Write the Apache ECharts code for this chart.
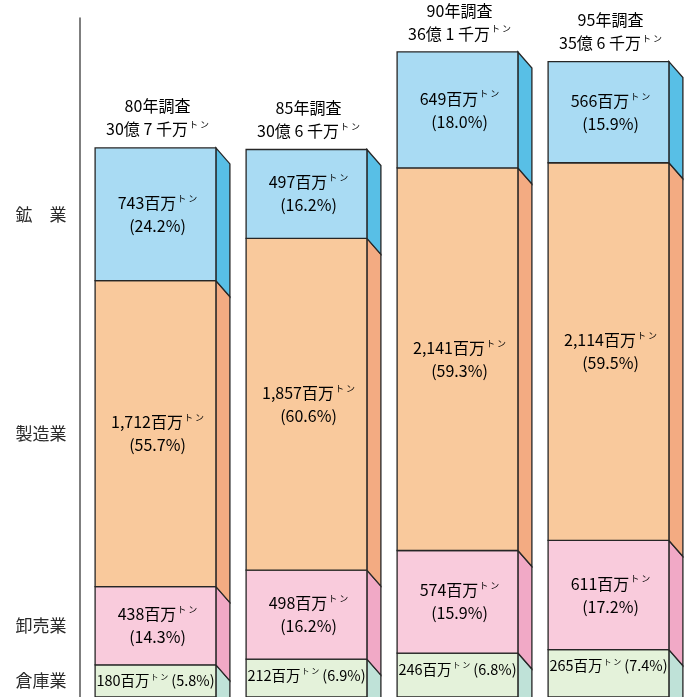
<!DOCTYPE html>
<html>
<head>
<meta charset="utf-8">
<script src="https://cdn.jsdelivr.net/npm/echarts@6/dist/echarts.min.js"></script>
<style>
  html, body { margin: 0; padding: 0; background: #fff; }
  #chart { width: 687px; height: 697px; }
</style>
</head>
<body>
<div id="chart"></div>
<script>
// Survey years and freight totals
const years = ['80年調査', '85年調査', '90年調査', '95年調査'];
const totals = ['30億 7 千万', '30億 6 千万', '36億 1 千万', '35億 6 千万'];

// Industry names (top to bottom)
const sectors = ['鉱　業', '製造業', '卸売業', '倉庫業'];

// Freight volume per industry (百万トン) and share (%)
const mining = [743, 497, 649, 566];
const miningPct = ['24.2', '16.2', '18.0', '15.9'];
const manufacturing = [1712, 1857, 2141, 2114];
const manufacturingPct = ['55.7', '60.6', '59.3', '59.5'];
const wholesale = [438, 498, 574, 611];
const wholesalePct = ['14.3', '16.2', '15.9', '17.2'];
const warehouse = [180, 212, 246, 265];
const warehousePct = ['5.8', '6.9', '6.8', '7.4'];

function fmt(n) { return n.toLocaleString('en-US'); }

// stacking order, bottom to top
const layers = [
  { name: sectors[3], values: warehouse, pct: warehousePct, front: '#e4f2da', side: '#bfe2d8', oneLine: true },
  { name: sectors[2], values: wholesale, pct: wholesalePct, front: '#f9cbdc', side: '#f1a9c6' },
  { name: sectors[1], values: manufacturing, pct: manufacturingPct, front: '#f9c99c', side: '#f3ab82' },
  { name: sectors[0], values: mining, pct: miningPct, front: '#a9dbf3', side: '#58bfe6', top: true }
];

const base = years.map(() => 0);
const DX = 14, DY = 16;
const FONT = '"Noto Sans CJK JP", sans-serif';
const rich = {
  a: { fontFamily: FONT, fontSize: 16, color: '#2a2a2a', lineHeight: 23 },
  t: { fontFamily: FONT, fontSize: 9, color: '#2a2a2a', padding: [0, 0, 9, 1] },
  s: { fontFamily: FONT, fontSize: 14.5, color: '#2a2a2a', lineHeight: 20 },
  st: { fontFamily: FONT, fontSize: 8, color: '#2a2a2a', padding: [0, 3, 8, 1] }
};

const series = layers.map((layer) => {
  const data = layer.values.map((v, i) => {
    const lo = base[i];
    base[i] += v;
    return [i, lo, base[i], v];
  });
  return {
    type: 'custom',
    name: layer.name,
    data: data,
    clip: false,
    renderItem: function (params, api) {
      const idx = api.value(0);
      const pTop = api.coord([idx, api.value(2)]);
      const pBot = api.coord([idx, api.value(1)]);
      const w = api.size([1, 0])[0] * 0.8;
      const x0 = pTop[0] - w / 2, x1 = x0 + w;
      const yT = pTop[1], yB = pBot[1];
      const stroke = { stroke: '#262626', lineWidth: 1.3 };
      const kids = [
        {
          type: 'polygon',
          shape: { points: [[x1, yT], [x1 + DX, yT + DY], [x1 + DX, yB + DY], [x1, yB]] },
          style: Object.assign({ fill: layer.side }, stroke)
        },
        {
          type: 'rect',
          shape: { x: x0, y: yT, width: w, height: yB - yT },
          style: Object.assign({ fill: layer.front }, stroke)
        }
      ];
      const val = fmt(layer.values[params.dataIndex]);
      const pct = layer.pct[params.dataIndex];
      if (layer.oneLine) {
        kids.push({
          type: 'text',
          style: {
            x: pTop[0], y: yT + 16, align: 'center', verticalAlign: 'middle',
            text: '{s|' + val + '百万}{st|ト ン}{s|(' + pct + '%)}', rich: rich
          }
        });
      } else {
        kids.push({
          type: 'text',
          style: {
            x: pTop[0] + 2, y: (yT + yB) / 2, align: 'center', verticalAlign: 'middle',
            text: '{a|' + val + '百万}{t|ト ン}\n{a|(' + pct + '%)}', rich: rich
          }
        });
      }
      if (layer.top) {
        kids.push({
          type: 'text',
          style: {
            x: pTop[0] + 2, y: yT - 30, align: 'center', verticalAlign: 'middle',
            text: '{a|' + years[idx] + '}\n{a|' + totals[idx] + '}{t|ト ン}', rich: rich
          }
        });
      }
      if (idx === 0) {
        kids.push({
          type: 'text',
          style: {
            x: 41, y: layer.oneLine ? yT + 16 : (yT + yB) / 2, align: 'center', verticalAlign: 'middle',
            text: layer.name, fontFamily: FONT, fontSize: 17, fill: '#2a2a2a'
          }
        });
      }
      return { type: 'group', children: kids };
    }
  };
});

const chart = echarts.init(document.getElementById('chart'));
chart.setOption({
  animation: false,
  grid: { left: 80, right: 3, top: 18, bottom: -1 },
  xAxis: {
    type: 'category', data: years, show: false
  },
  yAxis: {
    type: 'value', min: 0, max: 3800,
    axisLine: { show: true, lineStyle: { color: '#555', width: 1.5 } },
    axisTick: { show: false }, axisLabel: { show: false }, splitLine: { show: false }
  },
  series: series
});
</script>
</body>
</html>
